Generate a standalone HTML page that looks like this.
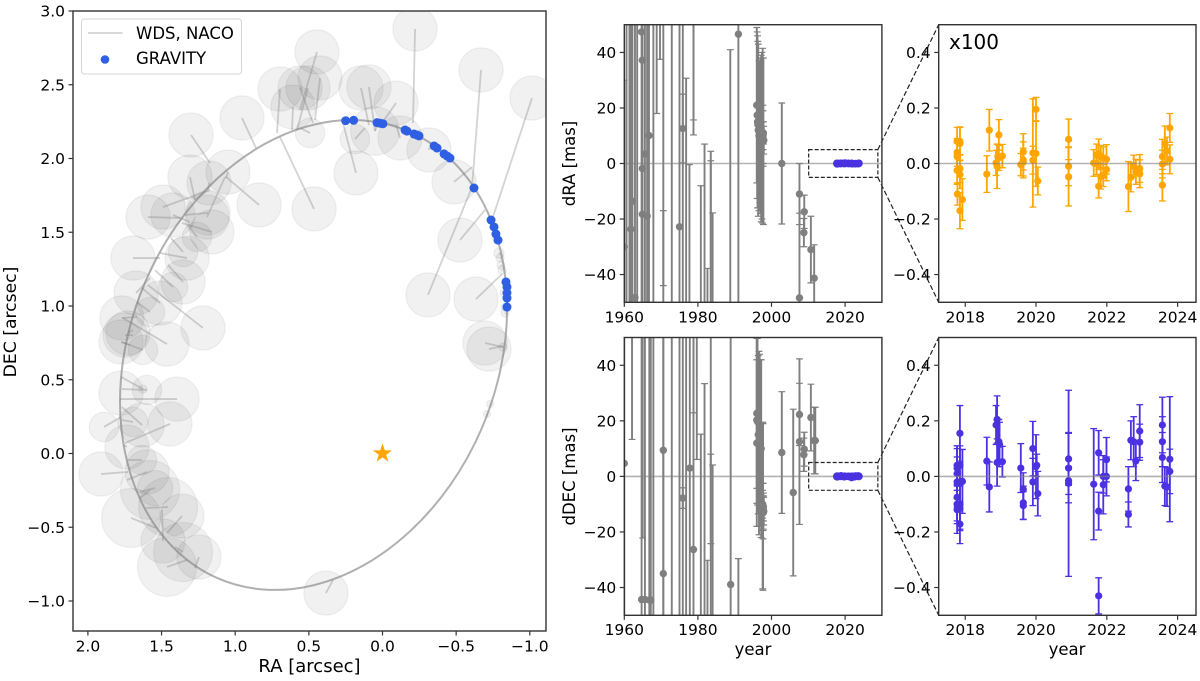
<!DOCTYPE html>
<html lang="en">
<head>
<meta charset="utf-8">
<title>Orbit and residuals</title>
<style>
html,body{margin:0;padding:0;background:#fff;width:1200px;height:681px;overflow:hidden}
svg{display:block}
text{font-family:"DejaVu Sans","Liberation Sans",sans-serif;fill:#000}
</style>
</head>
<body>
<svg id="chart" xmlns="http://www.w3.org/2000/svg" width="1200" height="681" viewBox="0 0 1200 681">
  <defs>
    <clipPath id="clip-orbit"><rect x="73" y="11" width="473" height="620"/></clipPath>
    <clipPath id="clip-ra-long"><rect x="624.3" y="24.7" width="257.6" height="277.6"/></clipPath>
    <clipPath id="clip-dec-long"><rect x="624.3" y="337.5" width="257.6" height="277.8"/></clipPath>
    <clipPath id="clip-ra-zoom"><rect x="938.7" y="24.7" width="257.3" height="277.6"/></clipPath>
    <clipPath id="clip-dec-zoom"><rect x="938.7" y="337.5" width="257.3" height="277.8"/></clipPath>
  </defs>
  <text x="309.5" y="672" font-size="18" text-anchor="middle">RA [arcsec]</text>
  <text transform="translate(16,322) rotate(-90)" font-size="17.2" text-anchor="middle">DEC [arcsec]</text>
  <text transform="translate(575,163.5) rotate(-90)" font-size="16.5" text-anchor="middle">dRA [mas]</text>
  <text transform="translate(575,476.5) rotate(-90)" font-size="16.5" text-anchor="middle">dDEC [mas]</text>
  <text x="753" y="655" font-size="16.5" text-anchor="middle">year</text>
  <text x="1067" y="655" font-size="16.5" text-anchor="middle">year</text>
</svg>
<script>
// ---- Orbit panel data (arcsec) ----
const orbitRA=[-0.846,-0.801,-0.670,-0.461,-0.189,0.128,0.468,0.808,1.125,1.397,1.606,1.737,1.782,1.737,1.606,1.397,1.125,0.808,0.468,0.128,-0.189,-0.461,-0.670,-0.801];
const orbitDEC=[0.985,0.570,0.162,-0.212,-0.525,-0.758,-0.893,-0.922,-0.843,-0.660,-0.388,-0.042,0.351,0.766,1.174,1.548,1.861,2.094,2.229,2.258,2.179,1.996,1.724,1.378];
const obsRA=[-0.221,-0.669,-1.015,0.146,0.092,-0.092,0.445,0.424,0.560,0.492,0.187,0.180,0.051,-0.119,-0.316,-0.486,-0.526,-0.635,-0.309,-0.696,-0.723,
-0.791,-0.798,-0.804,-0.811,-0.825,-0.832,-0.832,-0.818,-0.730,-0.709,
0.465,0.696,0.608,0.506,1.300,0.838,0.954,1.049,1.191,1.178,1.490,1.592,1.422,1.307,1.185,
1.694,1.327,1.158,1.259,1.354,1.354,1.422,1.673,1.511,1.578,1.219,1.769,1.728,1.748,1.775,1.463,1.626,
1.775,1.599,1.626,1.395,1.891,1.694,1.632,1.443,1.735,1.911,1.633,1.599,1.578,1.544,1.456,1.707,1.361,1.490,1.354,1.463,1.246,0.384];
const obsDEC=[2.878,2.600,2.410,2.478,2.485,2.376,2.722,2.546,2.478,2.173,2.132,1.902,2.186,2.139,2.058,1.841,1.447,1.047,1.075,0.749,0.708,
1.359,1.325,1.278,1.244,1.088,0.993,0.953,0.722,0.336,0.268,
1.658,2.471,2.349,2.478,2.159,1.685,2.275,1.908,1.603,1.834,1.671,1.603,1.617,1.875,1.631,
1.325,1.325,1.502,1.468,1.366,1.163,1.129,1.088,1.020,0.959,0.851,0.919,0.817,0.803,0.756,0.742,0.702,
0.410,0.431,0.437,0.369,0.180,0.214,0.193,0.200,0.044,-0.139,-0.044,-0.125,-0.247,-0.234,-0.363,-0.437,-0.424,-0.593,-0.668,-0.769,-0.702,-0.946];
const obsErr=[0.15,0.15,0.15,0.15,0.15,0.15,0.15,0.15,0.15,0.10,0.10,0.15,0.165,0.15,0.15,0.15,0.15,0.15,0.15,0.15,0.15,
0.035,0.028,0.028,0.028,0.028,0.028,0.028,0.028,0.024,0.024,
0.15,0.15,0.15,0.15,0.15,0.15,0.15,0.15,0.15,0.15,0.15,0.15,0.15,0.15,0.15,
0.15,0.15,0.15,0.10,0.10,0.15,0.10,0.15,0.15,0.10,0.15,0.15,0.15,0.15,0.15,0.15,0.10,
0.15,0.10,0.028,0.15,0.10,0.10,0.15,0.15,0.15,0.15,0.10,0.15,0.20,0.12,0.20,0.20,0.15,0.15,0.20,0.20,0.15,0.15];
const fitRA=[-0.207,-0.608,-0.743,0.092,0.051,0.003,0.560,0.458,0.472,0.560,0.119,0.268,0.031,-0.092,-0.316,-0.608,-0.696,-0.811,-0.608,-0.818,-0.818,
-0.800,-0.804,-0.808,-0.815,-0.838,-0.840,-0.838,-0.824,-0.735,-0.714,
0.696,0.716,0.614,0.580,1.171,1.062,0.859,1.062,1.069,1.185,1.171,1.375,1.307,1.273,1.341,
1.511,1.511,1.361,1.320,1.436,1.456,1.545,1.578,1.633,1.667,1.592,1.667,1.694,1.694,1.714,1.762,1.769,
1.775,1.769,1.775,1.782,1.775,1.769,1.769,1.748,1.755,1.728,1.728,1.735,1.646,1.646,1.605,1.537,1.463,1.497,1.409,1.327,1.273,0.336];
const fitDEC=[2.241,1.807,1.583,2.227,2.186,2.241,2.329,2.261,2.241,2.207,2.207,2.241,2.234,2.227,2.071,1.942,1.651,1.217,1.807,0.722,0.729,
1.350,1.320,1.272,1.240,1.085,0.990,0.950,0.720,0.332,0.264,
2.146,2.173,2.193,2.193,1.969,1.875,2.071,1.868,1.875,1.786,1.786,1.597,1.569,1.719,1.617,
1.325,1.359,1.563,1.549,1.461,1.278,1.244,1.190,1.122,1.027,1.142,0.925,0.837,0.803,0.736,0.919,0.756,
0.410,0.437,0.519,0.369,0.247,0.227,0.315,0.071,0.058,-0.125,-0.044,-0.180,-0.302,-0.260,-0.369,-0.505,-0.539,-0.383,-0.634,-0.722,-0.776,-0.858];
const gravRA=[0.250,0.196,0.037,0.017,-0.003,-0.153,-0.166,-0.214,-0.234,-0.248,-0.350,-0.370,-0.418,-0.438,-0.458,-0.621,-0.737,-0.757,-0.770,-0.784,-0.838,-0.845,-0.845,-0.845,-0.845];
const gravDEC=[2.256,2.259,2.243,2.239,2.236,2.193,2.186,2.166,2.159,2.153,2.085,2.071,2.031,2.017,2.003,1.800,1.583,1.536,1.488,1.447,1.163,1.129,1.088,1.054,0.993];
const starRA=[0];
const starDEC=[0];
const orbitXTicks=[2.0,1.5,1.0,0.5,0.0,-0.5,-1.0];
const orbitYTicks=[-1.0,-0.5,0.0,0.5,1.0,1.5,2.0,2.5,3.0];

// ---- Long-baseline residuals, grey points (mas) ----
const longYearRA=[1960,1960.6,1961.4,1961.8,1962.2,1962.9,1963.5,1964.7,1964.9,1964.9,1964.9,1965.6,1966.2,1966.7,1967.9,1968.8,1969.7,1970.6,1970.6,1972.9,1975,1975.9,1975.9,1976.8,1977.7,1978.8,1978.8,1980.8,1981.8,1982.6,1983.5,1983.5,1984,1988.8,1991,
1996.0,1996.1,1996.2,1996.3,1996.4,1996.6,1996.8,1997.0,1997.2,1997.4,1997.6,1997.8,1997.7,1997.7,1997.7,1997.8,1997.9,
2002.8,2007.6,2007.6,2008.9,2008.8,2010.7,2011.6];
const longValRA=[-30,-70,60,-23.7,-13.6,-48.3,70,47.4,37.2,-1.8,-18.3,3.4,-18.9,10.1,-90,100,100,80,-100,-80,-22.8,12.6,-70,-100,-100,100,100,-100,-100,-100,-100,-100,-100,-100,46.6,
21,17.4,15,14,12,10,11,10,9,10,10,8,10.5,9,10,11,8.4,
0,-11,-48.4,-17.4,-24.9,-31,-41.3];
const longErrRA=[60,200,200,90,90,150,190,150,150,120,110,120,120,120,200,82,62.5,124,83,200,110,12.4,200,130.7,99.6,84.3,89.7,92,107,62.2,104.4,101,82.2,141,120,
28,30,31,30,31,27,25,28,30,30,31.5,30,10.5,10,5,4,5,
21.8,11,30.5,6,5.1,12,12];
const longYearDEC=[1960,1962.1,1964.7,1965.6,1966.8,1967.2,1967.9,1965,1970.6,1970.6,1972.9,1975,1975.9,1975.9,1976.8,1977.8,1978.8,1978.8,1979.7,1980.8,1981.8,1982.6,1983.5,1983.5,1984,1988.9,1991,
1996,1996,1996.2,1996,1996.4,1996.6,1996.8,1997,1997.2,1997.6,1997.7,1997.7,1997.7,1997.8,1997.9,1997.8,1997.6,1997,
2002.8,2005.9,2007.6,2007.6,2008.9,2008.8,2010.7,2011.6,2011.9];
const longValDEC=[4.7,100,-44.3,-44.3,-44.5,-44.5,-80,100,9.4,-35,80,-80,-7.8,-7.8,80,3,-26.3,100,100,-100,-100,-100,-100,100,-100,-38.9,-100,
22.7,20.3,19.7,12,15,12,13,12,10,-10.5,-11,-12.5,-11,-11,-12.5,-13,-10,-12,
8.6,-5.8,22.3,12.5,9.8,7.8,21.2,12.9,12.9];
const longErrDEC=[80,86.7,150,150,150,150,200,122.2,120,120,200,200,120,3.7,200,120,120,77.1,93.9,115.2,133.4,69.8,108,124.2,104.1,150,70.4,
27,30,30,30,28.5,33,31,30,32,30,30,10,8.5,5,5,6,5,6,
21.9,30,11.2,29.8,6.1,6,12,12,12];

// ---- GRAVITY residuals ----
const zoomYearRA=[2017.77,2017.77,2017.77,2017.77,2017.78,2017.85,2017.85,2017.85,2017.85,2017.85,2017.92,
2018.61,2018.68,
2018.87,2018.90,2018.92,2018.95,2018.95,2019.05,
2019.57,2019.64,2019.64,2019.64,
2019.91,2019.91,2020.0,2020.0,2020.05,
2020.92,2020.92,2020.92,
2021.63,2021.71,2021.71,2021.77,2021.77,2021.83,2021.83,2021.90,2021.90,2021.99,2021.99,
2022.61,2022.68,2022.76,2022.82,2022.93,2022.93,
2023.57,2023.57,2023.57,2023.64,2023.70,2023.78,2023.78];
const zoomValRA=[.08,.04,.025,-.025,-.11,.08,.072,-.018,-.04,-.17,-.13,
-.038,.12,
.002,-.01,.025,.103,.02,.027,
-.004,.042,.013,.005,
.038,.012,.195,.036,-.063,
.087,-.01,-.048,
.002,.03,0,-.082,.033,.025,-.047,-.043,.02,.015,-.022,
-.083,-.05,-.01,-.03,-.018,-.037,
.025,-.002,-.078,.07,.045,.128,.015];
const zoomErrRA=[.05,.05,.05,.05,.04,.05,.06,.05,.05,.065,.075,
.066,.075,
.045,.08,.042,.055,.045,.042,
.04,.065,.065,.05,
.195,.05,.043,.118,.05,
.073,.07,.105,
.048,.04,.04,.042,.055,.04,.045,.04,.04,.053,.04,
.09,.052,.04,.045,.05,.05,
.062,.05,.057,.065,.05,.052,.052];
const zoomYearDEC=[2017.77,2017.77,2017.77,2017.77,2017.77,2017.77,2017.77,2017.85,2017.85,2017.85,2017.85,2017.85,2017.85,2017.92,
2018.61,2018.68,
2018.87,2018.90,2018.90,2018.95,2018.97,2019.05,
2019.57,2019.64,2019.64,2019.64,
2019.91,2019.91,2020.0,2020.02,2020.05,
2020.92,2020.92,2020.92,2020.92,
2021.63,2021.77,2021.77,2021.77,2021.90,2021.90,2021.99,2021.99,
2022.61,2022.61,2022.68,2022.76,2022.82,2022.93,2022.93,
2023.57,2023.57,2023.57,2023.64,2023.70,2023.78,2023.78];
const zoomValDEC=[.04,.03,.01,-.02,-.075,-.10,-.12,.155,.04,-.02,-.10,-.115,-.172,-.018,
.055,-.038,
.185,.205,.05,.125,.115,.053,
.03,-.047,-.095,-.105,
.10,-.02,.035,.04,-.062,
.063,.03,-.015,-.025,
-.028,.085,-.125,-.43,0,-.03,.06,0,
-.045,-.137,.13,.125,.055,.163,.123,
.185,.125,.068,-.035,-.038,.062,.018];
const zoomErrDEC=[.07,.08,.09,.09,.085,.07,.085,.10,.07,.07,.09,.08,.07,.115,
.086,.09,
.07,.085,.085,.08,.08,.055,
.088,.06,.06,.05,
.098,.085,.115,.04,.08,
.095,.125,.05,.335,
.2,.08,.068,.065,.06,.105,.08,.07,
.08,.045,.07,.09,.07,.095,.065,
.10,.09,.09,.07,.07,.225,.08];

const longXTicks=[1960,1980,2000,2020];
const longYTicks=[-40,-20,0,20,40];
const zoomXTicks=[2018,2020,2022,2024];
const zoomYTicks=[-0.4,-0.2,0.0,0.2,0.4];
const insetBoxYears=[2010.1,2028.9];
const insetBoxVals=[-5,5];

const NS='http://www.w3.org/2000/svg';
const svg=document.getElementById('chart');
function mk(tag,attrs,parent){
  const n=document.createElementNS(NS,tag);
  for(const k in attrs){n.setAttribute(k,attrs[k]);}
  (parent||svg).appendChild(n);
  return n;
}
function scale(d0,d1,p0,p1){return function(v){return p0+(v-d0)*(p1-p0)/(d1-d0);};}
function fmt(v,dec){const s=Math.abs(v).toFixed(dec);return (v<0?'\u2212':'')+s;}

function drawFrame(box,X,Y,xt,yt,xDec,yDec,fs,xLabelBase,prefix){
  xt.forEach(function(t){
    const tick=mk('line',{x1:X(t),x2:X(t),y1:box.b,y2:box.b+4.5,stroke:'#333','stroke-width':1.2});
    
    
    const lab=mk('text',{x:X(t),y:xLabelBase,'font-size':fs,'text-anchor':'middle'});
    lab.textContent=fmt(t,xDec);
    
    
  });
  yt.forEach(function(t){
    const tick=mk('line',{x1:box.l-4.5,x2:box.l,y1:Y(t),y2:Y(t),stroke:'#333','stroke-width':1.2});
    
    
    const lab=mk('text',{x:box.l-8,y:Y(t)+5.5,'font-size':fs,'text-anchor':'end'});
    lab.textContent=fmt(t,yDec);
    
    
  });
  const frame=mk('rect',{x:box.l,y:box.t,width:box.r-box.l,height:box.b-box.t,fill:'none',stroke:'#333','stroke-width':1.4});
  
  
}
function drawErrorbars(g,xs,ys,es,color,X,Y,box,capW,lw,capLw,r,prefix){
  xs.forEach(function(x,i){
    const px=X(x),rawTop=Y(ys[i]+es[i]),rawBot=Y(ys[i]-es[i]);
    const top=Math.max(rawTop,box.t),bot=Math.min(rawBot,box.b);
    if(top>=bot){return;}
    const bar=mk('line',{x1:px,x2:px,y1:top,y2:bot,stroke:color,'stroke-width':lw},g);
    
    
    if(capW>0&&rawTop>=box.t){
      const capT=mk('line',{x1:px-capW,x2:px+capW,y1:rawTop,y2:rawTop,stroke:color,'stroke-width':capLw},g);
      
      
    }
    if(capW>0&&rawBot<=box.b){
      const capB=mk('line',{x1:px-capW,x2:px+capW,y1:rawBot,y2:rawBot,stroke:color,'stroke-width':capLw},g);
      
      
    }
  });
  xs.forEach(function(x,i){
    const cy=Y(ys[i]);
    if(cy<box.t||cy>box.b){return;}
    const dot=mk('circle',{cx:X(x),cy:cy,r:r,fill:color},g);
    
    
  });
}
function zeroLine(g,box,Y,prefix){
  const l=mk('line',{x1:box.l,x2:box.r,y1:Y(0),y2:Y(0),stroke:'#808080','stroke-opacity':0.6,'stroke-width':1.6},g);
  
  
}

// ---- Orbit panel ----
const bO={l:73,r:546,t:11,b:631};
const XO=scale(0,1,382.5,382.5-147.3);
const YO=scale(0,1,453.5,453.5-147.5);
const gO=mk('g',{'clip-path':'url(#clip-orbit)'});


obsRA.forEach(function(ra,i){
  const c=mk('circle',{cx:XO(ra),cy:YO(obsDEC[i]),r:Math.abs(XO(obsErr[i])-XO(0)),fill:'#000','fill-opacity':0.055,stroke:'#000','stroke-opacity':0.055,'stroke-width':1.2},gO);
  
  
});
obsRA.forEach(function(ra,i){
  const l=mk('line',{x1:XO(ra),y1:YO(obsDEC[i]),x2:XO(fitRA[i]),y2:YO(fitDEC[i]),stroke:'#808080','stroke-opacity':0.35,'stroke-width':1.8},gO);
  
  
});
(function(){
  const n=orbitRA.length;
  const px=orbitRA.map(XO), py=orbitDEC.map(YO);
  let d='M'+px[0]+' '+py[0];
  for(let i=0;i<n;i++){
    const a=(i-1+n)%n,b=i,c=(i+1)%n,e=(i+2)%n;
    d+=' C'+(px[b]+(px[c]-px[a])/6)+' '+(py[b]+(py[c]-py[a])/6)+' '+(px[c]-(px[e]-px[b])/6)+' '+(py[c]-(py[e]-py[b])/6)+' '+px[c]+' '+py[c];
  }
  const orbit=mk('path',{d:d+'Z',fill:'none',stroke:'#808080','stroke-opacity':0.62,'stroke-width':2},gO);
  
  
})();
gravRA.forEach(function(ra,i){
  const c=mk('circle',{cx:XO(ra),cy:YO(gravDEC[i]),r:4.5,fill:'#2f5fe3'},gO);
  
  
});
starRA.forEach(function(ra,i){
  const pts=[];
  for(let k=0;k<10;k++){
    const rr=k%2?3.9:10, a=-Math.PI/2+k*Math.PI/5;
    pts.push((XO(ra)+rr*Math.cos(a))+','+(YO(starDEC[i])+rr*Math.sin(a)));
  }
  const st=mk('polygon',{points:pts.join(' '),fill:'#ffa500'},gO);
  
  
});
drawFrame(bO,XO,YO,orbitXTicks,orbitYTicks,1,1,15.5,651.5,'orbit');

// ---- Legend ----
const legend=mk('g',{});


const legBox=mk('rect',{x:81.5,y:19,width:160,height:55,rx:3,fill:'#fff','fill-opacity':0.8,stroke:'#d5d5d5','stroke-width':1},legend);


const legLine=mk('line',{x1:88,x2:122.5,y1:33,y2:33,stroke:'#808080','stroke-opacity':0.35,'stroke-width':1.8},legend);


const legT1=mk('text',{x:136,y:39,'font-size':16.5},legend);
legT1.textContent='WDS, NACO';


const legDot=mk('circle',{cx:105,cy:59.5,r:4.3,fill:'#2f5fe3'},legend);


const legT2=mk('text',{x:136,y:64,'font-size':16.5},legend);
legT2.textContent='GRAVITY';



// ---- Residual panels ----
function residualPair(top,bottom,clipLong,clipZoom,yrLong,valLong,errLong,yrZoom,valZoom,errZoom,zoomColor,longLabelBase,prefix){
  const bL={l:624.3,r:881.9,t:top,b:bottom};
  const bZ={l:938.7,r:1196,t:top,b:bottom};
  const XL=scale(1960,2030,bL.l,bL.r);
  const YL=scale(-50,50,bottom,top);
  const XZ=scale(2017.25,2024.52,bZ.l,bZ.r);
  const YZ=scale(-0.5,0.5,bottom,top);

  const gL=mk('g',{'clip-path':'url('+clipLong+')'});
  
  
  drawErrorbars(gL,yrLong,valLong,errLong,'#7f7f7f',XL,YL,bL,3.4,1.9,1.2,3.7,prefix+'-long-grey');
  zeroLine(gL,bL,YL,prefix+'-long');
  drawErrorbars(gL,yrZoom,valZoom,errZoom,'#4b32e0',XL,YL,bL,0,1,1,3.7,prefix+'-long-gravity');

  const box=mk('rect',{x:XL(insetBoxYears[0]),y:YL(insetBoxVals[1]),width:XL(insetBoxYears[1])-XL(insetBoxYears[0]),height:YL(insetBoxVals[0])-YL(insetBoxVals[1]),fill:'none',stroke:'#222','stroke-width':1.2,'stroke-dasharray':'4 2'});
  
  
  const c1=mk('line',{x1:XL(insetBoxYears[1]),y1:YL(insetBoxVals[1]),x2:bZ.l,y2:top,stroke:'#222','stroke-width':1.2,'stroke-dasharray':'5 2.5'});
  
  
  const c2=mk('line',{x1:XL(insetBoxYears[1]),y1:YL(insetBoxVals[0]),x2:bZ.l,y2:bottom,stroke:'#222','stroke-width':1.2,'stroke-dasharray':'5 2.5'});
  
  

  drawFrame(bL,XL,YL,longXTicks,longYTicks,0,0,15.5,longLabelBase,prefix+'-long');

  const gZ=mk('g',{'clip-path':'url('+clipZoom+')'});
  
  
  drawErrorbars(gZ,yrZoom,valZoom,errZoom,zoomColor,XZ,YZ,bZ,3.4,1.8,1.3,3.6,prefix+'-zoom');
  zeroLine(gZ,bZ,YZ,prefix+'-zoom');
  drawFrame(bZ,XZ,YZ,zoomXTicks,zoomYTicks,0,1,15.5,longLabelBase,prefix+'-zoom');
}
residualPair(24.7,302.3,'#clip-ra-long','#clip-ra-zoom',longYearRA,longValRA,longErrRA,zoomYearRA,zoomValRA,zoomErrRA,'#ffa500',322.5,'dra');
residualPair(337.5,615.3,'#clip-dec-long','#clip-dec-zoom',longYearDEC,longValDEC,longErrDEC,zoomYearDEC,zoomValDEC,zoomErrDEC,'#4b32e0',635,'ddec');

const mult=mk('text',{x:949,y:49,'font-size':20});
mult.textContent='x100';


</script>
</body>
</html>
